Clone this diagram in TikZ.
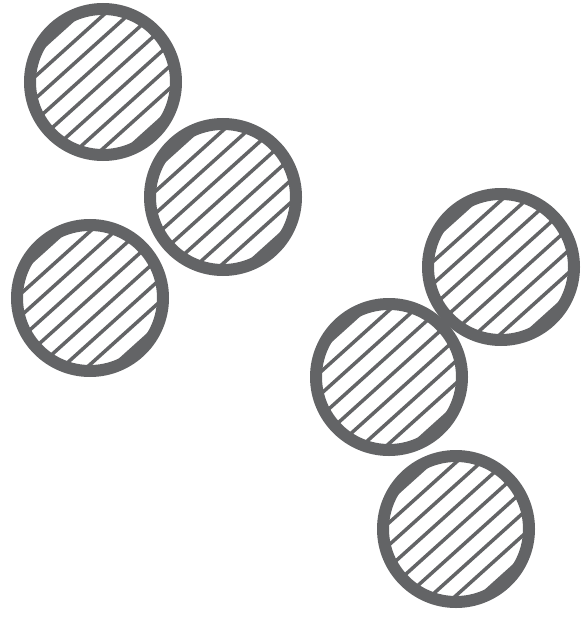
\documentclass[tikz,border=0pt]{standalone}
\usepackage{tikz}
\usetikzlibrary{calc}
\usepackage{xcolor}

\definecolor{ringgrey}{RGB}{99,100,102}

\begin{document}
\begin{tikzpicture}[
    disc/.style={circle, draw=ringgrey, line width=0.24cm, minimum size=2.92cm, inner sep=0pt, outer sep=0pt,
        path picture={
            \coordinate (pc) at (path picture bounding box.center);
            \foreach \k in {-6,...,6}
                \draw[ringgrey, line width=2pt] ($(pc)+(132:\k*0.33)+(42:2)$) -- ($(pc)+(132:\k*0.33)+(222:2)$);
        }}
]
\useasboundingbox (0,0) rectangle (11.62,-12.5);

% Left group
\node[disc] (topleft) at (2.06,-1.64) {};
\node[disc] (midleft) at (4.46,-3.94) {};
\node[disc] (lowleft) at (1.80,-5.96) {};

% Right group
\node[disc] (topright) at (10.02,-5.34) {};
\node[disc] (midright) at (7.78,-7.54) {};
\node[disc] (lowright) at (9.12,-10.58) {};

\end{tikzpicture}
\end{document}
